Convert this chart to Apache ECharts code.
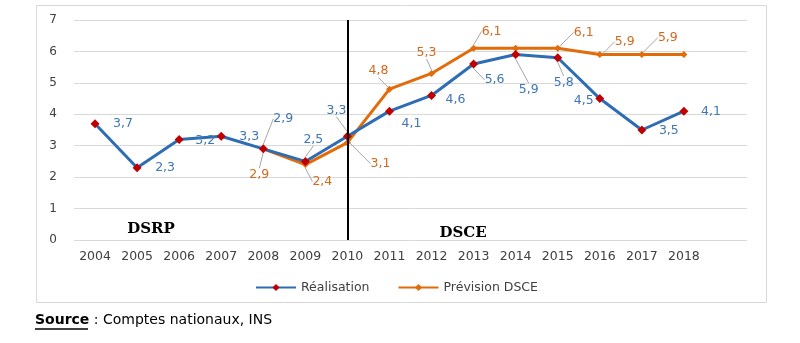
<!DOCTYPE html>
<html><head><meta charset="utf-8">
<script src="https://cdn.jsdelivr.net/npm/echarts@6/dist/echarts.min.js"></script>
<style>html,body{margin:0;padding:0;background:#fff}#c{width:800px;height:343px}</style>
</head><body><div id="c"></div>
<script>
const years = ['2004','2005','2006','2007','2008','2009','2010','2011','2012','2013','2014','2015','2016','2017','2018'];
const realisation = [3.7,2.3,3.2,3.3,2.9,2.5,3.3,4.1,4.6,5.6,5.9,5.8,4.5,3.5,4.1];
const prevision = [null,null,null,null,2.9,2.4,3.1,4.8,5.3,6.1,6.1,6.1,5.9,5.9,5.9];
const yTicks = [0,1,2,3,4,5,6,7];
// label offsets (dx, dy, leader line?) — placement only
const realLabelPos = [[28,0,0],[28,0,0],[26,1,0],[28,0,0],[20,-30,1],[8,-22,1],[-11,-26,1],[22,13,0],[24,4,0],[21,16,1],[13,35,1],[6,25,1],[-16,2,0],[27,1,0],[27,1,0]];
const prevLabelPos = [null,null,null,null,[-4,26,1],[17,17,1],[33,21,1],[-11,-18,1],[-5,-21,1],[18,-17,1],null,[26,-16,1],[25,-13,1],[26,-17,1],null];

const BLUE='#2E6DB4', RED='#C00000', ORANGE='#E26B0A';
const fmt = v => String(v).replace('.', ',');
const cats = years.concat(['']);

function mkData(vals, pos){
  return vals.map((v,i)=>{
    if (v===null) return '-';
    const p = pos[i];
    return {value:v, label:{show: !!p}, labelLine:{show: !!(p && p[2])}};
  });
}

const chart = echarts.init(document.getElementById('c'));
chart.setOption({
  animation:false,
  grid:{left:74, right:53, top:20, bottom:103},
  xAxis:{type:'category', data:cats, boundaryGap:true,
    axisLine:{show:false}, axisTick:{show:false},
    axisLabel:{color:'#404040', fontFamily:'DejaVu Sans', fontSize:12.5, margin:10, interval:0}},
  yAxis:{type:'value', min:yTicks[0], max:yTicks[yTicks.length-1], interval:1,
    axisLine:{show:false}, axisTick:{show:false},
    axisLabel:{color:'#404040', fontFamily:'DejaVu Sans', fontSize:12, margin:17},
    splitLine:{lineStyle:{color:'#D9D9D9', width:1}}},
  legend:{left:250, top:276, itemWidth:40, itemHeight:9, itemGap:28,
    textStyle:{fontFamily:'DejaVu Sans', fontSize:12.5, color:'#404040'},
    data:['Réalisation','Prévision DSCE']},
  series:[
    {name:'Prévision DSCE', type:'line', data:mkData(prevision, prevLabelPos),
     lineStyle:{color:ORANGE, width:3}, itemStyle:{color:ORANGE},
     symbol:'diamond', symbolSize:7, z:2,
     label:{position:'inside', formatter:p=>fmt(p.value), color:'#D2691E', fontFamily:'DejaVu Sans', fontSize:12.5},
     labelLine:{lineStyle:{color:'#A6A6A6', width:1}},
     labelLayout:p=>{const o=prevLabelPos[p.dataIndex]; return o?{dx:o[0], dy:o[1]}:{}; },
     markLine:{silent:true, symbol:'none', label:{show:false},
       lineStyle:{color:'#000', width:2, type:'solid'},
       data:[{xAxis:'2010'}]}
    },
    {name:'Réalisation', type:'line', data:mkData(realisation, realLabelPos),
     lineStyle:{color:BLUE, width:3}, itemStyle:{color:RED},
     symbol:'diamond', symbolSize:9, z:3,
     label:{position:'inside', formatter:p=>fmt(p.value), color:'#3F76B5', fontFamily:'DejaVu Sans', fontSize:12.5},
     labelLine:{lineStyle:{color:'#A6A6A6', width:1}},
     labelLayout:p=>{const o=realLabelPos[p.dataIndex]; return o?{dx:o[0], dy:o[1]}:{}; }
    }
  ],
  graphic:[
    {type:'rect', shape:{x:36.5, y:5.5, width:730, height:297}, style:{fill:'none', stroke:'#D9D9D9', lineWidth:1}, silent:true, z:-10},
    {type:'text', x:151, y:229, style:{text:'DSRP', font:'bold 15px "DejaVu Serif"', fill:'#000', align:'center', verticalAlign:'middle'}},
    {type:'text', x:463, y:233, style:{text:'DSCE', font:'bold 15px "DejaVu Serif"', fill:'#000', align:'center', verticalAlign:'middle'}},
    {type:'text', x:35, y:320, style:{text:'{b|Source} : Comptes nationaux, INS', verticalAlign:'middle', font:'14px "DejaVu Sans"', fill:'#000',
      rich:{b:{fontWeight:'bold', fontFamily:'DejaVu Sans', fontSize:14, fill:'#000'}}}},
    {type:'line', shape:{x1:35, y1:329, x2:88, y2:329}, style:{stroke:'#000', lineWidth:1.5}}
  ]
});
</script></body></html>
